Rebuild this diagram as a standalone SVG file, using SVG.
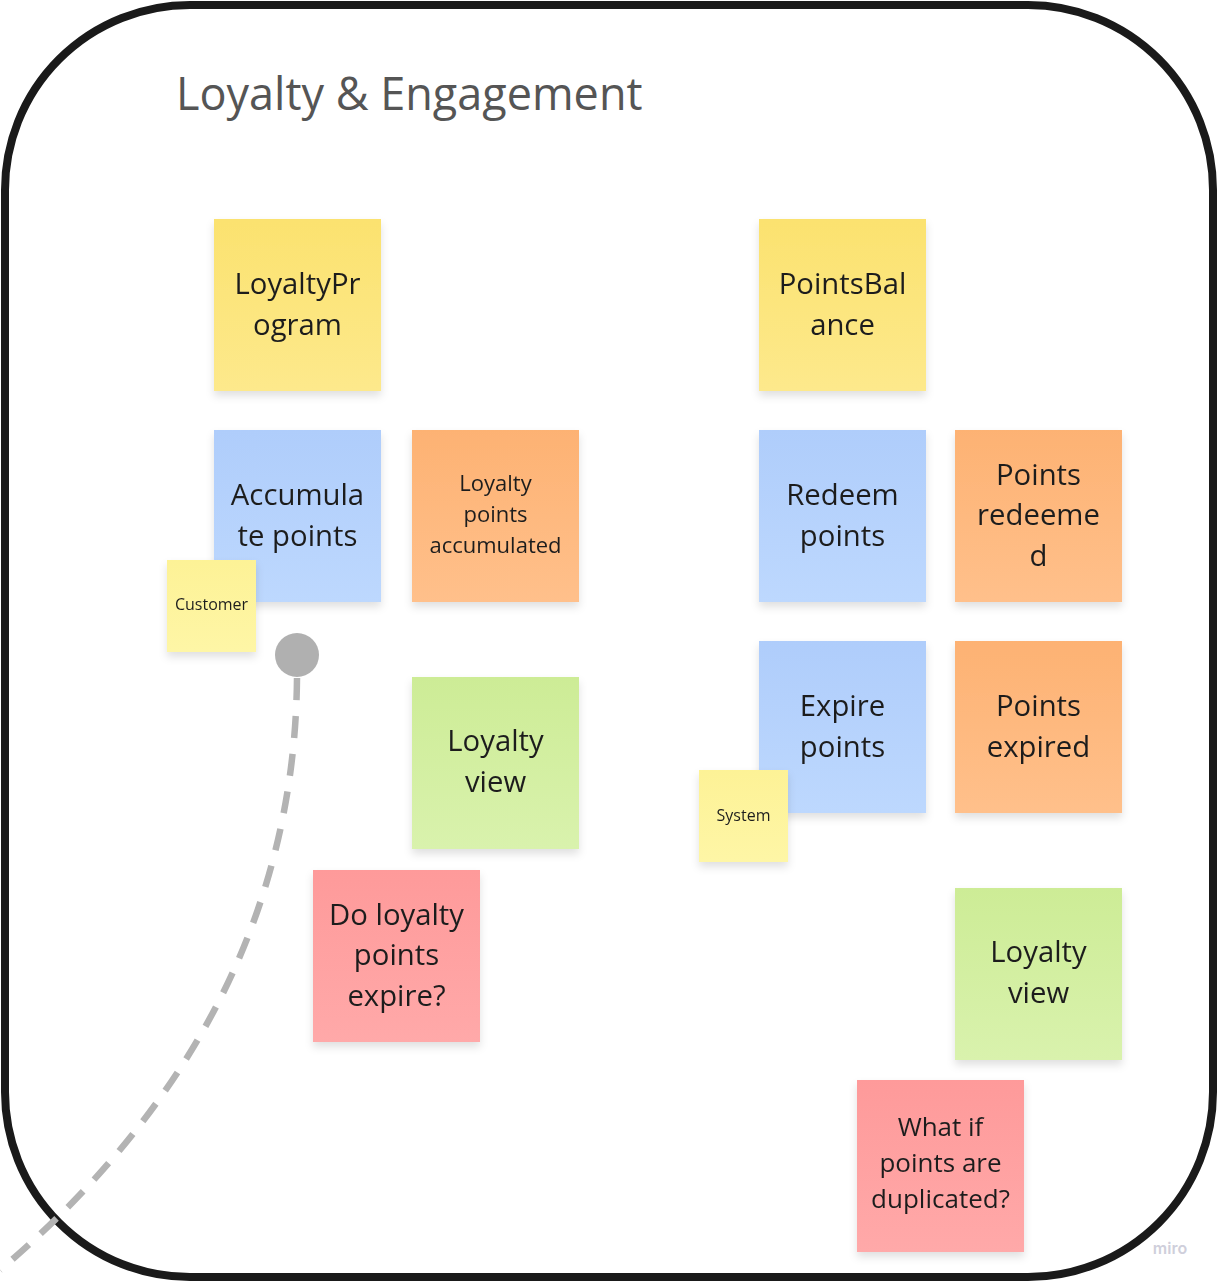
<svg xmlns="http://www.w3.org/2000/svg" width="1218" height="1282" viewBox="0 0 1218 1282">
<style>
  .t { font-family: "Open Sans", "Noto Sans", "Liberation Sans", sans-serif; fill: #1f1f1f; text-anchor: middle; }
  .big { font-size: 29.3px; }
  .mid { font-size: 22px; }
  .q2 { font-size: 26px; }
  .sm { font-size: 16px; }
  .title { font-family: "Open Sans", "Noto Sans", "Liberation Sans", sans-serif; font-size: 45px; fill: #555555; }
  .note { filter: url(#sh); }
</style>
<defs>
  <filter id="sh" x="-20%" y="-20%" width="140%" height="150%">
    <feDropShadow dx="0" dy="5" stdDeviation="4" flood-color="#000" flood-opacity="0.12"/>
  </filter>
  <linearGradient id="gY" x1="0" y1="0" x2="0" y2="1"><stop offset="0" stop-color="#fbe26f"/><stop offset="1" stop-color="#fde98c"/></linearGradient>
  <linearGradient id="gB" x1="0" y1="0" x2="0" y2="1"><stop offset="0" stop-color="#afcdfb"/><stop offset="1" stop-color="#bdd8fe"/></linearGradient>
  <linearGradient id="gO" x1="0" y1="0" x2="0" y2="1"><stop offset="0" stop-color="#fdb273"/><stop offset="1" stop-color="#ffc08b"/></linearGradient>
  <linearGradient id="gG" x1="0" y1="0" x2="0" y2="1"><stop offset="0" stop-color="#cdec96"/><stop offset="1" stop-color="#d9f2ad"/></linearGradient>
  <linearGradient id="gR" x1="0" y1="0" x2="0" y2="1"><stop offset="0" stop-color="#fe9a9a"/><stop offset="1" stop-color="#ffa9a9"/></linearGradient>
  <linearGradient id="gS" x1="0" y1="0" x2="0" y2="1"><stop offset="0" stop-color="#fdf296"/><stop offset="1" stop-color="#fef6a6"/></linearGradient>
</defs>
<rect width="1218" height="1282" fill="#ffffff"/>
<g id="frame">
  <rect x="5" y="5" width="1208" height="1272" rx="185" ry="185" fill="#ffffff" stroke="#1a1a1a" stroke-width="8"/>
  <text class="title" x="176" y="110">Loyalty &amp; Engagement</text>
</g>
<g id="connectors">
  <path d="M297,678 C295,900 200,1100 0,1270" fill="none" stroke="#b3b3b3" stroke-width="6.5" stroke-dasharray="22 16"/>
</g>
<g id="n-loyaltyprogram" class="note">
  <rect x="214" y="219" width="167" height="172" fill="url(#gY)"/>
  <text class="t big" x="297.5" y="294">LoyaltyPr</text>
  <text class="t big" x="297.5" y="335">ogram</text>
</g>
<g id="n-pointsbalance" class="note">
  <rect x="759" y="219" width="167" height="172" fill="url(#gY)"/>
  <text class="t big" x="842.5" y="294">PointsBal</text>
  <text class="t big" x="842.5" y="335">ance</text>
</g>
<g id="n-accumulate" class="note">
  <rect x="214" y="430" width="167" height="172" fill="url(#gB)"/>
  <text class="t big" x="297.5" y="505">Accumula</text>
  <text class="t big" x="297.5" y="546">te points</text>
</g>
<g id="n-accumulated" class="note">
  <rect x="412" y="430" width="167" height="172" fill="url(#gO)"/>
  <text class="t mid" x="495.5" y="491">Loyalty</text>
  <text class="t mid" x="495.5" y="522">points</text>
  <text class="t mid" x="495.5" y="553">accumulated</text>
</g>
<g id="n-redeem" class="note">
  <rect x="759" y="430" width="167" height="172" fill="url(#gB)"/>
  <text class="t big" x="842.5" y="505">Redeem</text>
  <text class="t big" x="842.5" y="546">points</text>
</g>
<g id="n-redeemed" class="note">
  <rect x="955" y="430" width="167" height="172" fill="url(#gO)"/>
  <text class="t big" x="1038.5" y="485">Points</text>
  <text class="t big" x="1038.5" y="525">redeeme</text>
  <text class="t big" x="1038.5" y="566">d</text>
</g>
<g id="n-customer" class="note">
  <rect x="167" y="560" width="89" height="92" fill="url(#gS)"/>
  <text class="t sm" x="211.5" y="610">Customer</text>
</g>
<g id="n-circle">
  <circle cx="297" cy="655" r="22" fill="#b0b0b0"/>
</g>
<g id="n-expire" class="note">
  <rect x="759" y="641" width="167" height="172" fill="url(#gB)"/>
  <text class="t big" x="842.5" y="716">Expire</text>
  <text class="t big" x="842.5" y="757">points</text>
</g>
<g id="n-expired" class="note">
  <rect x="955" y="641" width="167" height="172" fill="url(#gO)"/>
  <text class="t big" x="1038.5" y="716">Points</text>
  <text class="t big" x="1038.5" y="757">expired</text>
</g>
<g id="n-system" class="note">
  <rect x="699" y="770" width="89" height="92" fill="url(#gS)"/>
  <text class="t sm" x="743.5" y="821">System</text>
</g>
<g id="n-loyaltyview1" class="note">
  <rect x="412" y="677" width="167" height="172" fill="url(#gG)"/>
  <text class="t big" x="495.5" y="751">Loyalty</text>
  <text class="t big" x="495.5" y="792">view</text>
</g>
<g id="n-question1" class="note">
  <rect x="313" y="870" width="167" height="172" fill="url(#gR)"/>
  <text class="t big" x="396.5" y="925">Do loyalty</text>
  <text class="t big" x="396.5" y="965">points</text>
  <text class="t big" x="396.5" y="1006">expire?</text>
</g>
<g id="n-loyaltyview2" class="note">
  <rect x="955" y="888" width="167" height="172" fill="url(#gG)"/>
  <text class="t big" x="1038.5" y="962">Loyalty</text>
  <text class="t big" x="1038.5" y="1003">view</text>
</g>
<g id="n-question2" class="note">
  <rect x="857" y="1080" width="167" height="172" fill="url(#gR)"/>
  <text class="t q2" x="940.5" y="1136">What if</text>
  <text class="t q2" x="940.5" y="1172">points are</text>
  <text class="t q2" x="940.5" y="1208">duplicated?</text>
</g>
<text x="1170" y="1254" font-family="Inter, 'Open Sans', sans-serif" font-size="16" font-weight="600" fill="#cfcfdb" text-anchor="middle">miro</text>
</svg>
